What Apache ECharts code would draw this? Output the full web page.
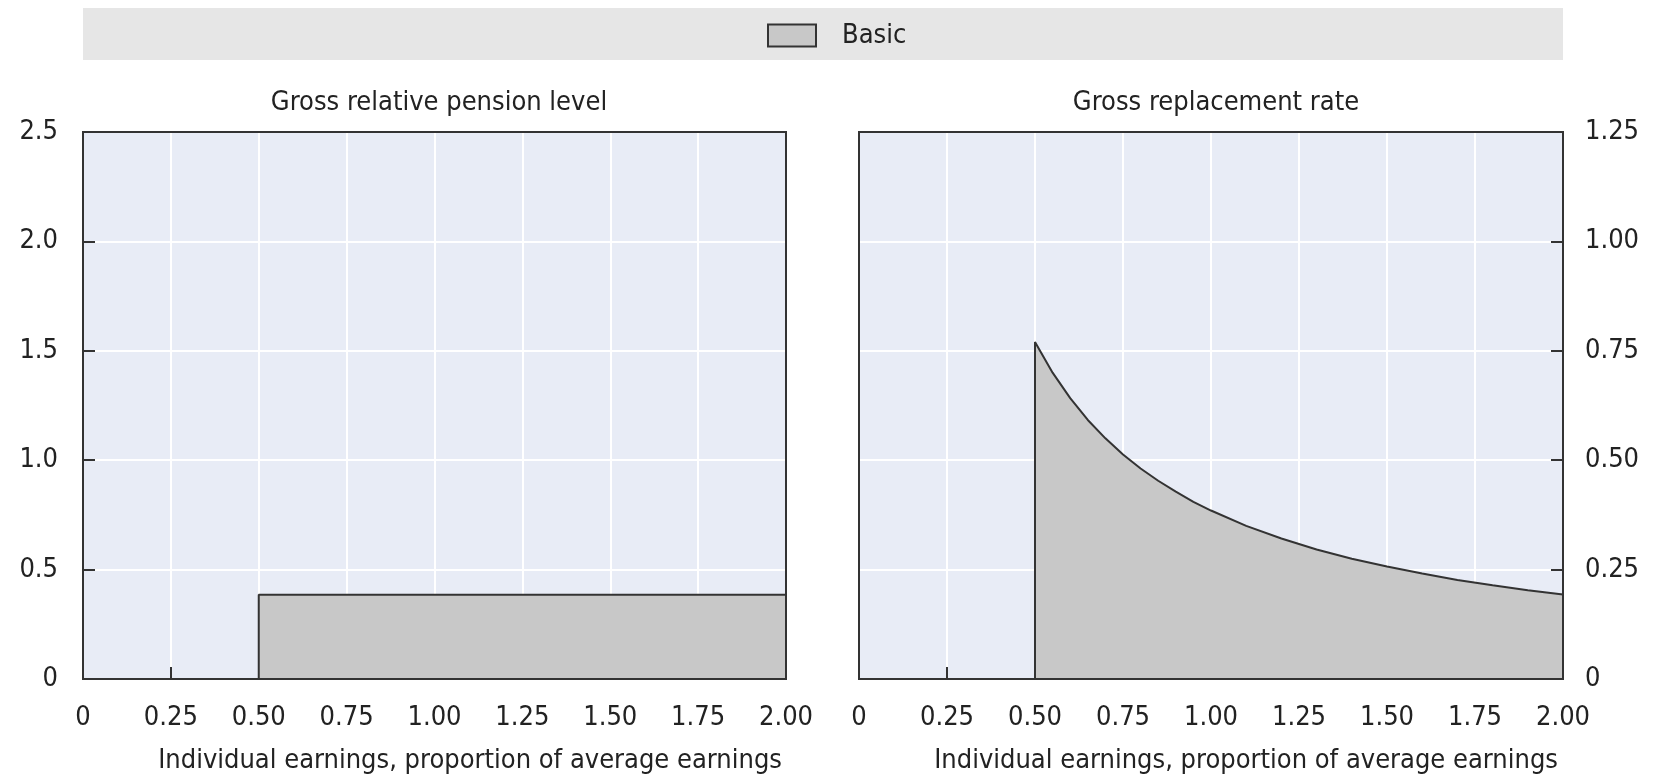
<!DOCTYPE html>
<html>
<head>
<meta charset="utf-8">
<script src="https://cdn.jsdelivr.net/npm/echarts@6/dist/echarts.min.js"></script>
<style>
html,body{margin:0;padding:0;background:#fff;}
#c{width:1656px;height:777px;}
</style>
</head>
<body>
<div id="c"></div>
<script>
// ---- data ----
var seriesName = 'Basic';
var panelTitles = ['Gross relative pension level', 'Gross replacement rate'];
var xAxisTitle = 'Individual earnings, proportion of average earnings';
var xTickLabels = ['0', '0.25', '0.50', '0.75', '1.00', '1.25', '1.50', '1.75', '2.00'];
var leftTickLabels = ['0', '0.5', '1.0', '1.5', '2.0', '2.5'];
var rightTickLabels = ['0', '0.25', '0.50', '0.75', '1.00', '1.25'];

var levelEarnings = [0.5, 0.5, 2.0];
var levelValues = [0, 0.385, 0.385];

var rateEarnings = [0.5, 0.5, 0.55, 0.6, 0.65, 0.7, 0.75, 0.8, 0.85, 0.9, 0.95, 1.0, 1.1, 1.2, 1.3, 1.4, 1.5, 1.6, 1.7, 1.8, 1.9, 2.0];
var rateValues = [0, 0.770, 0.700, 0.642, 0.592, 0.550, 0.513, 0.481, 0.453, 0.428, 0.405, 0.385, 0.350, 0.321, 0.296, 0.275, 0.257, 0.241, 0.226, 0.214, 0.203, 0.193];

function zip(a, b) { return a.map(function (v, i) { return [v, b[i]]; }); }

var FONT = "'Liberation Sans Narrow','Arial Narrow','DejaVu Sans Condensed',sans-serif";
var TXT = '#222';
var FS = 27;

var G0 = { left: 83, top: 132, width: 703, height: 547 };
var G1 = { left: 859, top: 132, width: 704, height: 547 };

var chart = echarts.init(document.getElementById('c'));

function xAxisCfg(gi) {
  return {
    type: 'value', gridIndex: gi, min: 0, max: 2, interval: 0.25,
    axisLine: { show: false, onZero: false },
    axisTick: { show: true, inside: true, length: 12, lineStyle: { color: '#333', width: 2 } },
    splitLine: { show: true, lineStyle: { color: '#ffffff', width: 2 } },
    axisLabel: {
      margin: 25, color: TXT, fontSize: FS, fontFamily: FONT,
      formatter: function (v) { return xTickLabels[Math.round(v / 0.25)]; }
    }
  };
}

function borderRect(g) {
  return {
    type: 'rect', z: 100, silent: true,
    shape: { x: g.left, y: g.top, width: g.width, height: g.height },
    style: { fill: null, stroke: '#333', lineWidth: 2 }
  };
}

var option = {
  animation: false,
  backgroundColor: '#ffffff',
  graphic: [
    { type: 'rect', z: -10, silent: true, shape: { x: 83, y: 8, width: 1480, height: 52 }, style: { fill: '#e6e6e6' } },
    borderRect(G0),
    borderRect(G1)
  ],
  legend: {
    top: 17, left: 762,
    itemWidth: 48, itemHeight: 22, itemGap: 20,
    textStyle: { color: TXT, fontSize: FS, fontFamily: FONT, padding: [0, 0, 0, 21] },
    data: [{ name: seriesName, icon: 'rect', itemStyle: { color: '#c8c8c8', borderColor: '#333', borderWidth: 2 } }]
  },
  title: [
    { text: panelTitles[0], left: 434, top: 84, textAlign: 'center',
      textStyle: { color: TXT, fontSize: FS, fontWeight: 'normal', fontFamily: FONT } },
    { text: panelTitles[1], left: 1211, top: 84, textAlign: 'center',
      textStyle: { color: TXT, fontSize: FS, fontWeight: 'normal', fontFamily: FONT } },
    { text: xAxisTitle, right: 1656 - 787, top: 742,
      textStyle: { color: TXT, fontSize: FS, fontWeight: 'normal', fontFamily: FONT } },
    { text: xAxisTitle, right: 1656 - 1563, top: 742,
      textStyle: { color: TXT, fontSize: FS, fontWeight: 'normal', fontFamily: FONT } }
  ],
  grid: [
    { left: G0.left, top: G0.top, width: G0.width, height: G0.height, show: true, backgroundColor: '#e8ecf6', borderWidth: 0 },
    { left: G1.left, top: G1.top, width: G1.width, height: G1.height, show: true, backgroundColor: '#e8ecf6', borderWidth: 0 }
  ],
  xAxis: [xAxisCfg(0), xAxisCfg(1)],
  yAxis: [
    {
      type: 'value', gridIndex: 0, min: 0, max: 2.5, interval: 0.5, position: 'left',
      axisLine: { show: false, onZero: false },
      axisTick: { show: true, inside: true, length: 12, lineStyle: { color: '#333', width: 2 } },
      splitLine: { show: true, lineStyle: { color: '#ffffff', width: 2 } },
      axisLabel: { margin: 25, color: TXT, fontSize: FS, fontFamily: FONT,
        formatter: function (v) { return leftTickLabels[Math.round(v / 0.5)]; } }
    },
    {
      type: 'value', gridIndex: 1, min: 0, max: 1.25, interval: 0.25, position: 'right',
      axisLine: { show: false, onZero: false },
      axisTick: { show: true, inside: true, length: 12, lineStyle: { color: '#333', width: 2 } },
      splitLine: { show: true, lineStyle: { color: '#ffffff', width: 2 } },
      axisLabel: { margin: 22, color: TXT, fontSize: FS, fontFamily: FONT,
        formatter: function (v) { return rightTickLabels[Math.round(v / 0.25)]; } }
    }
  ],
  series: [
    {
      name: seriesName, type: 'line', xAxisIndex: 0, yAxisIndex: 0,
      data: zip(levelEarnings, levelValues),
      symbol: 'none', z: 3,
      lineStyle: { color: '#333', width: 2 },
      areaStyle: { color: '#c8c8c8', opacity: 1 },
      itemStyle: { color: '#c8c8c8' }
    },
    {
      name: seriesName, type: 'line', xAxisIndex: 1, yAxisIndex: 1,
      data: zip(rateEarnings, rateValues),
      symbol: 'none', z: 3,
      lineStyle: { color: '#333', width: 2 },
      areaStyle: { color: '#c8c8c8', opacity: 1 },
      itemStyle: { color: '#c8c8c8' }
    }
  ]
};
chart.setOption(option);
</script>
</body>
</html>
